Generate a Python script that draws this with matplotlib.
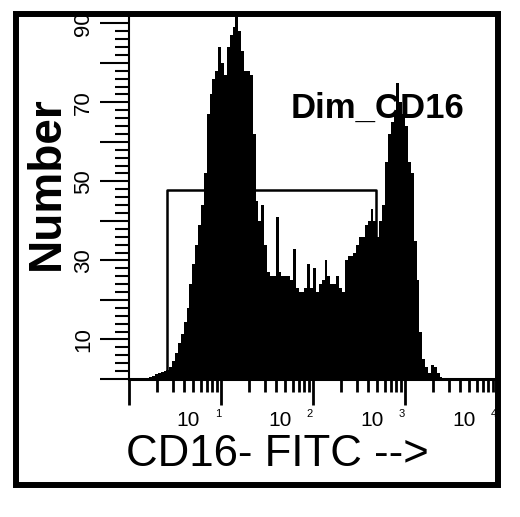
import numpy as np
import matplotlib.pyplot as plt
import matplotlib.transforms as mtransforms
from matplotlib.patches import Rectangle
from matplotlib.ticker import MultipleLocator, LogLocator, NullFormatter

plt.rcParams['font.family'] = ['Liberation Sans', 'DejaVu Sans']

# 128 log channels over 4 decades (CD16-FITC), counts per channel
n_channels = 128
counts = [0, 0, 0, 0, 0,
          0.3, 0.3, 0.5, 0.8, 1.2,
          1.5, 1.7, 2.0, 2.3, 3.0,
          4.5, 6.5, 9, 11.5, 14.5,
          18, 24, 29, 34, 39,
          44, 52, 67, 72, 76,
          78, 84, 80, 77, 84,
          87, 89, 93, 88, 83,
          78, 78, 77, 62, 45,
          40, 44, 34, 27, 26,
          26, 41, 27, 26, 26,
          26, 25, 33, 23, 22,
          22, 23, 29, 23, 28,
          22, 24, 25, 30, 26,
          24, 24, 26, 23, 22,
          30, 31, 31, 32, 34,
          36, 36, 39, 40, 43,
          40, 36, 40, 44, 55,
          62, 65, 67, 75, 70,
          67, 64, 55, 52, 35,
          25, 12, 5, 3, 1.5,
          3.5, 3, 1.5, 0.5, 0] + [0] * 18

gate_lo, gate_hi, gate_top = 2.6, 480, 47.8
gate_name = "Dim_CD16"
gate_label_pos = (497, 68.6)

ytick_vals = [0, 10, 20, 30, 40, 50, 60, 70, 80, 90]
ytick_labels = ['', '10', '', '30', '', '50', '', '70', '', '90']
decades = [1, 2, 3, 4]

edges = np.logspace(0, 4, n_channels + 1)

fig = plt.figure(figsize=(5.2, 5.17), dpi=100)
ax = fig.add_axes([129/520, 138/517, 368/520, 362/517])

ax.stairs(counts, edges, fill=True, color='black')
ax.plot([gate_lo, gate_lo, gate_hi, gate_hi], [0, gate_top, gate_top, 0],
        color='black', lw=1.8)
ax.text(gate_label_pos[0], gate_label_pos[1], gate_name, fontsize=25,
        fontweight='bold', ha='center', va='center')

ax.set_xscale('log')
ax.set_xlim(1, 1e4)
ax.set_ylim(0, 91.6)

for s in ['top', 'right']:
    ax.spines[s].set_visible(False)
ax.spines['left'].set_linewidth(1.5)
ax.spines['bottom'].set_linewidth(2.2)

ax.xaxis.set_major_locator(LogLocator(base=10, numticks=10))
ax.xaxis.set_minor_locator(LogLocator(base=10, subs=np.arange(2, 10), numticks=10))
ax.xaxis.set_major_formatter(NullFormatter())
ax.xaxis.set_minor_formatter(NullFormatter())
ax.tick_params(axis='x', which='major', length=19, width=2, direction='out')
ax.tick_params(axis='x', which='minor', length=9, width=2, direction='out')

ax.set_yticks(ytick_vals, ytick_labels)
ax.yaxis.set_minor_locator(MultipleLocator(2))
ax.tick_params(axis='y', which='major', length=21, width=1.5, direction='out',
               labelsize=16, pad=4)
ax.tick_params(axis='y', which='minor', length=10, width=1.5, direction='out')
for lbl in ax.get_yticklabels():
    lbl.set_rotation(90)
    lbl.set_va('center')

# decade labels: "10" with the exponent sitting by the tick
base_tr = ax.get_xaxis_transform()
for d in decades:
    tr = mtransforms.offset_copy(base_tr, fig=fig, x=-33, y=-42, units='dots')
    ax.text(10**d, 0, '10', transform=tr, ha='center', va='center', fontsize=15)
    tr2 = mtransforms.offset_copy(base_tr, fig=fig, x=-3, y=-35, units='dots')
    ax.text(10**d, 0, str(d), transform=tr2, ha='center', va='center', fontsize=8)

fig.text(47/520, 1 - 183/517, 'Number', rotation=90, fontsize=33,
         fontweight='bold', ha='center', va='center')
fig.text(277/520, 1 - 455/517, 'CD16- FITC -->', fontsize=31.5,
         ha='center', va='center')

fig.add_artist(Rectangle((16/520, 32/517), (497.5 - 16)/520, (503.5 - 32)/517,
                         transform=fig.transFigure, fill=False, lw=4.3, ec='black'))

fig.savefig('out.png', dpi=100)
